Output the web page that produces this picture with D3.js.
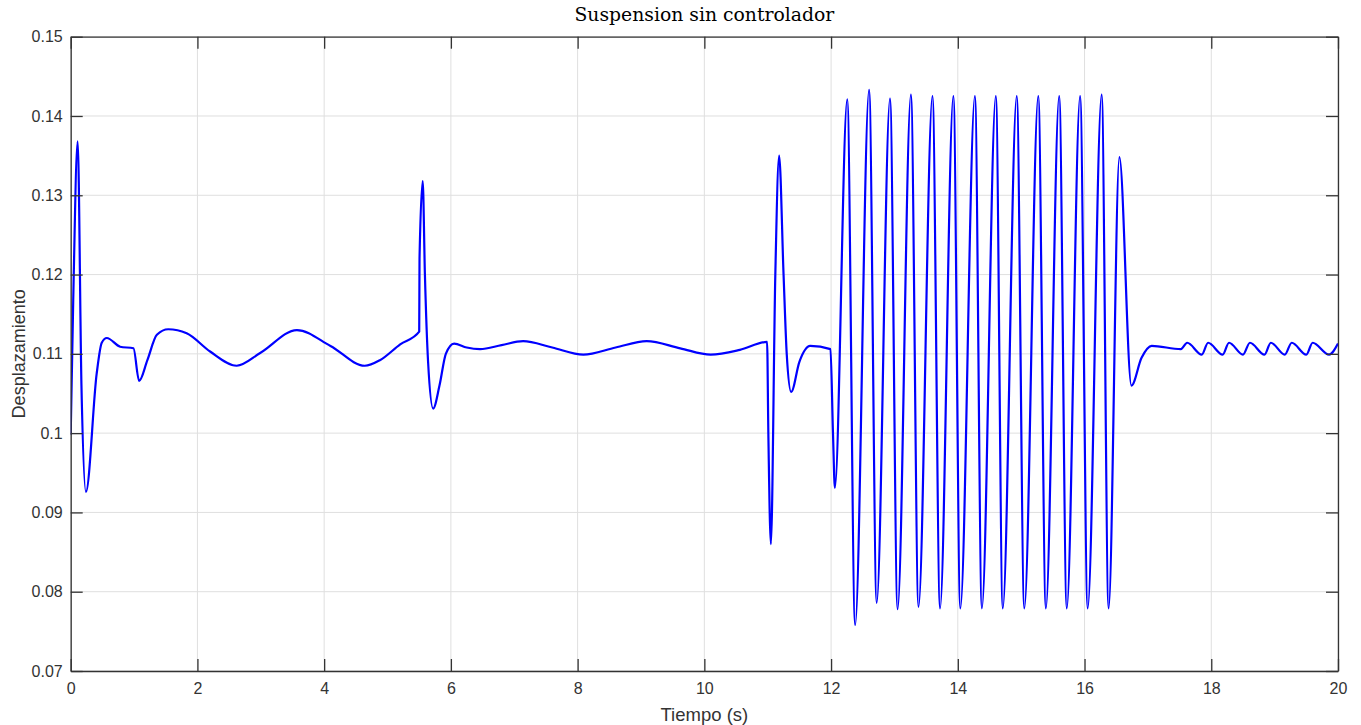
<!DOCTYPE html>
<html>
<head>
<meta charset="utf-8">
<script src="https://cdn.jsdelivr.net/npm/d3@7/dist/d3.min.js"></script>
<style>
  body { margin: 0; background: #fff; }
  svg { display: block; }
</style>
</head>
<body>
<div id="chart"></div>
<script>

// data (time in s, displacement)
var tiempo = [
    0.00, 0.04, 0.11, 0.17, 0.24, 0.41, 0.49, 0.57, 0.78, 0.99,
    1.08, 1.21, 1.36, 1.54, 1.83, 2.20, 2.62, 2.99, 3.57, 4.10,
    4.64, 4.88, 5.20, 5.50, 5.505, 5.555, 5.59, 5.64, 5.72, 5.82,
    5.92, 6.05, 6.25, 6.46, 6.80, 7.14, 7.60, 8.09, 8.60, 9.09,
    9.62, 10.10, 10.56, 10.99, 11.01, 11.05, 11.12, 11.18, 11.25, 11.30,
    11.37, 11.50, 11.67, 11.99, 12.03, 12.06,
    12.255, 12.38, 12.60, 12.72, 12.93, 13.05, 13.26, 13.38, 13.60, 13.72,
    13.93, 14.04, 14.27, 14.38, 14.60, 14.71, 14.93, 15.05, 15.27, 15.39,
    15.60, 15.72, 15.93, 16.05, 16.27, 16.38, 16.55, 16.74, 16.90, 17.06,
    17.52, 17.62, 17.85, 17.95, 18.18, 18.28, 18.50, 18.61, 18.84, 18.94,
    19.16, 19.27, 19.50, 19.60, 19.86, 20.00
];

var desplazamiento = [
    0.0998, 0.1168, 0.1368, 0.1059, 0.0926, 0.1075, 0.1114, 0.1120, 0.1109, 0.1107,
    0.1066, 0.1092, 0.1124, 0.1131, 0.1126, 0.1103, 0.1085, 0.1101, 0.1130, 0.1110,
    0.1085, 0.1092, 0.1112, 0.1128, 0.1220, 0.1318, 0.1200, 0.1090, 0.1031, 0.1060,
    0.1100, 0.1113, 0.1108, 0.1106, 0.1111, 0.1116, 0.1108, 0.1099, 0.1108, 0.1116,
    0.1107, 0.1099, 0.1105, 0.1115, 0.1000, 0.0860, 0.1200, 0.1350, 0.1200, 0.1100,
    0.1052, 0.1090, 0.1110, 0.1106, 0.1000, 0.0931,
    0.1421, 0.0758, 0.1433, 0.0786, 0.1422, 0.0778, 0.1427, 0.0781, 0.1425, 0.0779,
    0.1425, 0.0779, 0.1425, 0.0779, 0.1425, 0.0779, 0.1425, 0.0779, 0.1425, 0.0779,
    0.1425, 0.0779, 0.1425, 0.0779, 0.1427, 0.0779, 0.1348, 0.1060, 0.1095, 0.1110,
    0.1106, 0.1114, 0.1099, 0.1114, 0.1099, 0.1114, 0.1099, 0.1114, 0.1099, 0.1114,
    0.1099, 0.1114, 0.1099, 0.1114, 0.1099, 0.1113
];

var xTicks = [0, 2, 4, 6, 8, 10, 12, 14, 16, 18, 20];
var yTicks = [0.07, 0.08, 0.09, 0.1, 0.11, 0.12, 0.13, 0.14, 0.15];

var titulo = 'Suspension sin controlador';
var etiquetaX = 'Tiempo (s)';
var etiquetaY = 'Desplazamiento';


// setup
var width = 1361,
    height = 725;

var margin = {top: 36.7, right: 23, bottom: 54, left: 70.7};

var plotW = width - margin.left - margin.right,
    plotH = height - margin.top - margin.bottom;

var axisColor = '#333333';
var gridColor = '#dfdfdf';
var tickLen = 12;

var svg = d3.select('#chart').append('svg')
    .attr('width', width)
    .attr('height', height);

var g = svg.append('g')
    .attr('transform', 'translate(' + margin.left + ',' + margin.top + ')');

var x = d3.scaleLinear().domain([0, 20]).range([0, plotW]);
var y = d3.scaleLinear().domain([0.07, 0.15]).range([plotH, 0]);

var points = tiempo.map(function (t, i) {
    return {t: t, v: desplazamiento[i]};
});


// grid
g.append('g').selectAll('line')
    .data(xTicks)
    .enter().append('line')
    .attr('x1', function (d) { return x(d); })
    .attr('x2', function (d) { return x(d); })
    .attr('y1', 0)
    .attr('y2', plotH)
    .attr('stroke', gridColor)
    .attr('stroke-width', 1);

g.append('g').selectAll('line')
    .data(yTicks)
    .enter().append('line')
    .attr('x1', 0)
    .attr('x2', plotW)
    .attr('y1', function (d) { return y(d); })
    .attr('y2', function (d) { return y(d); })
    .attr('stroke', gridColor)
    .attr('stroke-width', 1);


// the signal
g.append('clipPath').attr('id', 'clip')
    .append('rect')
    .attr('width', plotW)
    .attr('height', plotH);

var line = d3.line()
    .x(function (d) { return x(d.t); })
    .y(function (d) { return y(d.v); })
    .curve(d3.curveMonotoneX);

g.append('path')
    .datum(points)
    .attr('clip-path', 'url(#clip)')
    .attr('d', line)
    .attr('fill', 'none')
    .attr('stroke', '#0000ff')
    .attr('stroke-width', 2.2)
    .attr('stroke-linejoin', 'round');


// axes (ticks inside, on all four sides)
var xAxis = d3.axisBottom(x).tickValues(xTicks).tickSize(-tickLen).tickPadding(12).tickSizeOuter(0);
var yAxis = d3.axisLeft(y).tickValues(yTicks).tickSize(-tickLen).tickPadding(8).tickSizeOuter(0)
    .tickFormat(function (d) { return d === 0.1 ? '0.1' : d3.format('.2f')(d); });

var gx = g.append('g')
    .attr('transform', 'translate(0,' + plotH + ')')
    .call(xAxis);

var gy = g.append('g').call(yAxis);

var gxTop = g.append('g')
    .call(d3.axisTop(x).tickValues(xTicks).tickSize(-tickLen).tickFormat('').tickSizeOuter(0));

var gyRight = g.append('g')
    .attr('transform', 'translate(' + plotW + ',0)')
    .call(d3.axisRight(y).tickValues(yTicks).tickSize(-tickLen).tickFormat('').tickSizeOuter(0));

[gx, gy, gxTop, gyRight].forEach(function (a) {
    a.select('.domain').attr('stroke', axisColor).attr('stroke-width', 1.3);
    a.selectAll('.tick line').attr('stroke', axisColor).attr('stroke-width', 1.3);
    a.selectAll('.tick text')
        .attr('fill', axisColor)
        .style('font-family', '"Liberation Sans", Arial, sans-serif')
        .style('font-size', '16px');
});


// texts
svg.append('text')
    .attr('x', margin.left + plotW / 2)
    .attr('y', 21)
    .attr('text-anchor', 'middle')
    .style('font-family', '"DejaVu Serif", serif')
    .style('font-size', '18.8px')
    .attr('fill', '#000')
    .text(titulo);

svg.append('text')
    .attr('x', margin.left + plotW / 2)
    .attr('y', 721)
    .attr('text-anchor', 'middle')
    .style('font-family', '"Liberation Sans", Arial, sans-serif')
    .style('font-size', '18.5px')
    .attr('fill', axisColor)
    .text(etiquetaX);

svg.append('text')
    .attr('transform', 'translate(25,' + (margin.top + plotH / 2) + ') rotate(-90)')
    .attr('text-anchor', 'middle')
    .style('font-family', '"Liberation Sans", Arial, sans-serif')
    .style('font-size', '18px')
    .attr('fill', axisColor)
    .text(etiquetaY);

</script>
</body>
</html>
